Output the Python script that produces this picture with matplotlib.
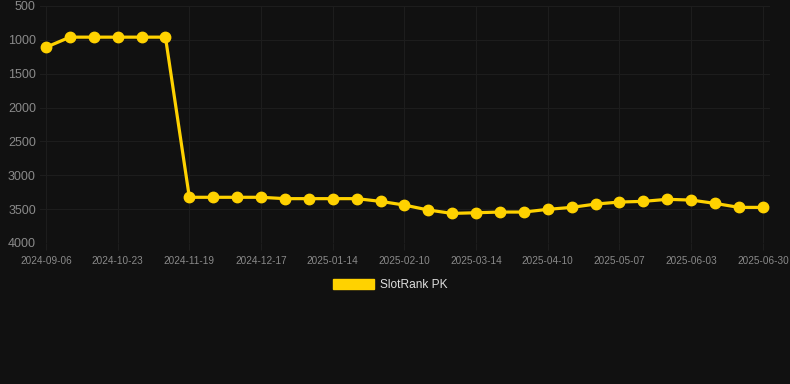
import numpy as np
import matplotlib
matplotlib.use("Agg")
import matplotlib.pyplot as plt
from matplotlib.patches import Patch

# weekly rank of the game (lower is better), one point per sample
ranks = [1110, 960, 960, 960, 960, 960,
         3325, 3325, 3325, 3325, 3345, 3345, 3345, 3345,
         3385, 3440, 3513, 3563, 3553, 3543, 3543, 3503,
         3474, 3425, 3395, 3385, 3355, 3366, 3415, 3474, 3474]

tick_labels = ["2024-09-06", "2024-10-23", "2024-11-19", "2024-12-17",
               "2025-01-14", "2025-02-10", "2025-03-14", "2025-04-10",
               "2025-05-07", "2025-06-03", "2025-06-30"]
y_ticks = [500, 1000, 1500, 2000, 2500, 3000, 3500, 4000]

bg = "#111111"
gold = "#ffd200"
grid = "#1d1d1d"

plt.rcParams["font.family"] = ["Liberation Sans", "DejaVu Sans"]

fig = plt.figure(figsize=(7.9, 3.84), dpi=100, facecolor=bg)
ax = fig.add_axes([40 / 790, 1 - 243 / 384, 730 / 790, 237 / 384])
ax.set_facecolor(bg)

x = np.arange(len(ranks))
ax.plot(x, ranks, color=gold, lw=2.3, marker="o", ms=7.5,
        markerfacecolor=gold, markeredgecolor=gold, label="SlotRank PK",
        solid_joinstyle="round", zorder=3)

ax.set_xlim(-0.25, 30.3)
ax.set_ylim(4000, 500)
ax.set_xticks(x[::3])
ax.set_xticklabels(tick_labels)
ax.set_yticks(y_ticks)

ax.grid(True, color=grid, lw=0.8)
for s in ax.spines.values():
    s.set_visible(False)
ax.tick_params(axis="x", colors=grid, labelcolor="#8a8a8a",
               labelsize=7.2, length=5, pad=4)
ax.tick_params(axis="y", length=0, labelcolor="#8a8a8a", labelsize=9, pad=3)

# legend with a flat rectangle instead of the line marker
handle = Patch(facecolor=gold, edgecolor=gold)
fig.legend([handle], ["SlotRank PK"], loc="center", bbox_to_anchor=(390 / 790, 1 - 285 / 384),
           frameon=False, handlelength=3.4, handleheight=1.0, handletextpad=0.5,
           labelcolor="#dddddd", fontsize=8.6)

fig.savefig("out.png", dpi=100, facecolor=bg)
